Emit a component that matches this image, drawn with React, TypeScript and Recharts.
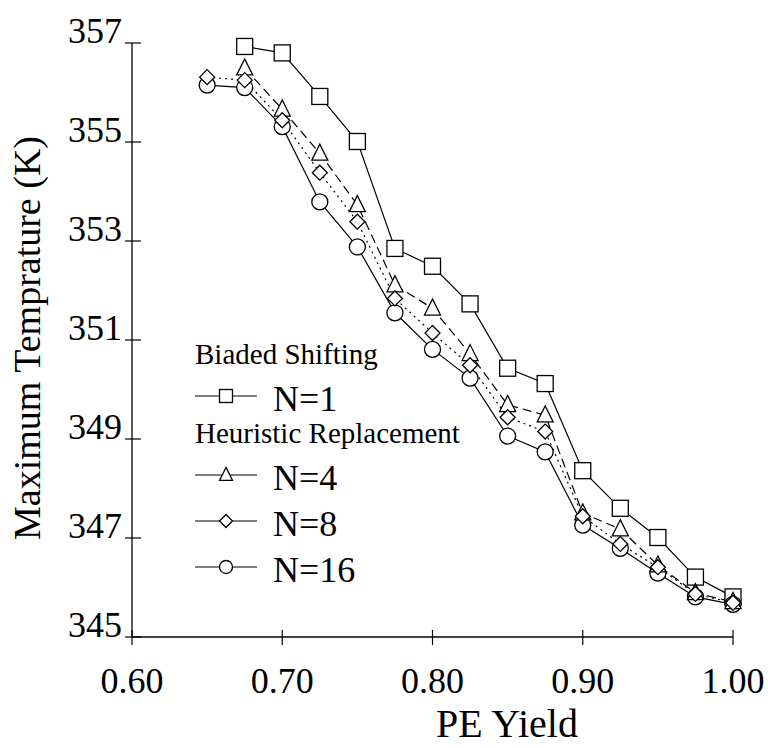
import React from "react";
import { LineChart, Line, XAxis, YAxis, Legend, Label } from "recharts";

const FONT = "'Liberation Serif', 'Times New Roman', serif";

// PE yield sampled every 0.025
const peYield = [0.65, 0.675, 0.7, 0.725, 0.75, 0.775, 0.8, 0.825, 0.85, 0.875, 0.9, 0.925, 0.95, 0.975, 1.0];

// maximum temperature (K) per run
const biasedN1 = [null, 356.93, 356.8, 355.92, 355.01, 352.85, 352.49, 351.73, 350.43, 350.12, 348.36, 347.6, 347.01, 346.21, 345.81];
const heurN4 = [null, 356.49, 355.66, 354.77, 353.73, 352.11, 351.64, 350.72, 349.69, 349.48, 347.5, 347.18, 346.45, 345.89, 345.71];
const heurN8 = [356.31, 356.25, 355.44, 354.38, 353.39, 351.84, 351.14, 350.49, 349.44, 349.15, 347.44, 346.88, 346.41, 345.87, 345.69];
const heurN16 = [356.15, 356.1, 355.31, 353.79, 352.88, 351.55, 350.81, 350.23, 349.06, 348.74, 347.26, 346.79, 346.29, 345.81, 345.66];

const xTicks = [0.6, 0.7, 0.8, 0.9, 1.0];
const yTicks = [345, 347, 349, 351, 353, 355, 357];

const rows = peYield.map((x, i) => ({
  x,
  n1: biasedN1[i],
  n4: heurN4[i],
  n8: heurN8[i],
  n16: heurN16[i],
}));

type Kind = "square" | "triangle" | "diamond" | "circle";

function Marker({ kind, cx, cy, s }: { kind: Kind; cx: number; cy: number; s: number }) {
  const common = { fill: "#fff", stroke: "#000", strokeWidth: 1.3 };
  const h = s / 2;
  if (kind === "square") return <rect x={cx - h} y={cy - h} width={s} height={s} {...common} />;
  if (kind === "triangle")
    return (
      <polygon
        points={`${cx},${cy - s * 0.58} ${cx - h},${cy + s * 0.42} ${cx + h},${cy + s * 0.42}`}
        {...common}
      />
    );
  if (kind === "diamond")
    return <polygon points={`${cx},${cy - h} ${cx + h},${cy} ${cx},${cy + h} ${cx - h},${cy}`} {...common} />;
  return <circle cx={cx} cy={cy} r={h} {...common} />;
}

const dotFor = (kind: Kind, size: number) => (p: any) => {
  if (p.cy == null || p.value == null || isNaN(p.cy)) return <g key={`${kind}-${p.index}`} />;
  return (
    <g key={`${kind}-${p.index}`}>
      <Marker kind={kind} cx={p.cx} cy={p.cy} s={size} />
    </g>
  );
};

const XTick = (props: any) => {
  const { x, y, payload } = props;
  return (
    <g>
      <line x1={x} y1={y - 7} x2={x} y2={y + 8} stroke="#000" strokeWidth={1.2} />
      <text x={x} y={y + 56} textAnchor="middle" fontSize={36} fontFamily={FONT} fill="#000">
        {Number(payload.value).toFixed(2)}
      </text>
    </g>
  );
};

const YTick = (props: any) => {
  const { x, y, payload } = props;
  return (
    <g>
      <line x1={x - 7} y1={y} x2={x + 9} y2={y} stroke="#000" strokeWidth={1.2} />
      <text x={x - 10} y={y} textAnchor="end" fontSize={36} fontFamily={FONT} fill="#000">
        {payload.value}
      </text>
    </g>
  );
};

const legendGroups = [
  { title: "Biaded Shifting", items: [{ name: "N=1", kind: "square" as Kind }] },
  {
    title: "Heuristic Replacement",
    items: [
      { name: "N=4", kind: "triangle" as Kind },
      { name: "N=8", kind: "diamond" as Kind },
      { name: "N=16", kind: "circle" as Kind },
    ],
  },
];

const KeyBox = () => {
  let y = 0;
  const parts: React.ReactNode[] = [];
  legendGroups.forEach((g, gi) => {
    y += gi === 0 ? 34 : 47;
    parts.push(
      <text key={`t${gi}`} x={5} y={y} fontSize={29} fontFamily={FONT} fill="#000">
        {g.title}
      </text>
    );
    g.items.forEach((it, ii) => {
      const ly = y + (ii === 0 ? 32 : 46);
      y = ly;
      parts.push(
        <g key={`i${gi}-${ii}`}>
          <line x1={5} y1={ly} x2={67} y2={ly} stroke="#000" strokeWidth={1.2} />
          <Marker kind={it.kind} cx={36} cy={ly} s={13} />
          <text x={83} y={ly + 15} fontSize={36} fontFamily={FONT} fill="#000">
            {it.name}
          </text>
        </g>
      );
    });
  });
  return (
    <svg width={300} height={290} style={{ display: "block" }}>
      {parts}
    </svg>
  );
};

export default function App() {
  return (
    <div style={{ position: "absolute", left: 0, top: 0, background: "#fff" }}>
      <LineChart
        width={768}
        height={748}
        data={rows}
        margin={{ top: 43, right: 35, bottom: 51, left: 72 }}
        style={{ fontFamily: FONT }}
      >
        <XAxis
          dataKey="x"
          type="number"
          domain={[0.6, 1.0]}
          ticks={xTicks}
          height={60}
          tickSize={0}
          tickMargin={0}
          tickLine={false}
          tick={<XTick />}
          axisLine={{ stroke: "#000", strokeWidth: 1.3 }}
        >
          <Label
            content={({ viewBox }: any) => (
              <text
                x={viewBox.x + 375}
                y={viewBox.y + 100}
                textAnchor="middle"
                fontSize={40}
                fontFamily={FONT}
                fill="#000"
              >
                PE Yield
              </text>
            )}
          />
        </XAxis>
        <YAxis
          type="number"
          domain={[345, 357]}
          ticks={yTicks}
          width={60}
          tickSize={0}
          tickMargin={0}
          tickLine={false}
          tick={<YTick />}
          axisLine={{ stroke: "#000", strokeWidth: 1.3 }}
        >
          <Label
            content={({ viewBox }: any) => {
              const lx = viewBox.x - 32;
              const ly = viewBox.y + viewBox.height / 2 - 2;
              return (
                <text
                  x={lx}
                  y={ly}
                  transform={`rotate(-90, ${lx}, ${ly})`}
                  textAnchor="middle"
                  fontSize={38}
                  fontFamily={FONT}
                  fill="#000"
                >
                  Maximum Temprature (K)
                </text>
              );
            }}
          />
        </YAxis>
        <Legend
          layout="vertical"
          align="center"
          verticalAlign="middle"
          wrapperStyle={{ left: 190, top: 330, width: 300, height: 290 }}
          content={() => <KeyBox />}
        />
        <Line
          dataKey="n1"
          name="N=1"
          stroke="#000"
          strokeWidth={1.2}
          dot={dotFor("square", 16)}
          activeDot={false}
          isAnimationActive={false}
        />
        <Line
          dataKey="n16"
          name="N=16"
          stroke="#000"
          strokeWidth={1.2}
          dot={dotFor("circle", 16)}
          activeDot={false}
          isAnimationActive={false}
        />
        <Line
          dataKey="n4"
          name="N=4"
          stroke="#000"
          strokeWidth={1.2}
          strokeDasharray="9 5"
          dot={dotFor("triangle", 16)}
          activeDot={false}
          isAnimationActive={false}
        />
        <Line
          dataKey="n8"
          name="N=8"
          stroke="#000"
          strokeWidth={1.2}
          strokeDasharray="2 4"
          dot={dotFor("diamond", 15)}
          activeDot={false}
          isAnimationActive={false}
        />
      </LineChart>
    </div>
  );
}
